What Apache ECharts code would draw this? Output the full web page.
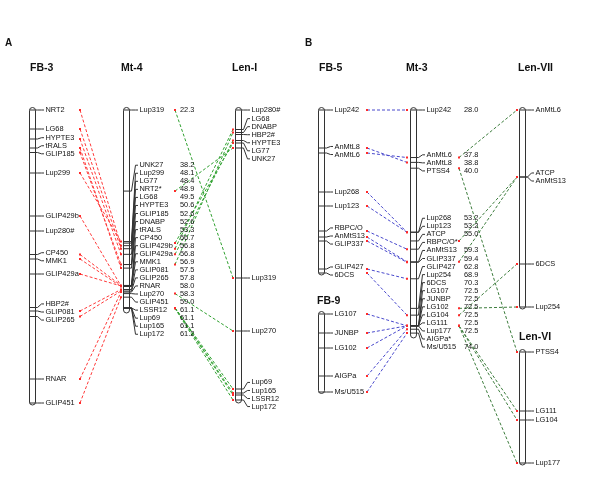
<!DOCTYPE html>
<html><head><meta charset="utf-8">
<script src="https://cdn.jsdelivr.net/npm/echarts@6/dist/echarts.min.js"></script>
<style>html,body{margin:0;padding:0;background:#fff}#c{width:600px;height:487px}</style>
</head><body><div id="c"></div>
<script>
// ---------------- DATA ----------------
// Panel A
const fb3Names = ['NRT2','LG68','HYPTE3','tRALS','GLIP185','Lup299','GLIP429b','Lup280#','CP450','MMK1','GLIP429a','HBP2#','GLIP081','GLIP265','RNAR','GLIP451'];
const fb3Pos   = [0, 3.8, 5.8, 7.6, 8.5, 12.6, 21.2, 24.2, 28.9, 29.8, 32.8, 39.5, 40.2, 41.3, 53.8, 58.6];
const fb3Ext   = [-0.5, 59.0];

const mt4Names = ['Lup319','UNK27','Lup299','LG77','NRT2*','LG68','HYPTE3','GLIP185','DNABP','tRALS','CP450','GLIP429b','GLIP429a','MMK1','GLIP081','GLIP265','RNAR','Lup270','GLIP451','LSSR12','Lup69','Lup165','Lup172'];
const mt4cM    = [22.3, 38.2, 48.1, 48.4, 48.9, 49.5, 50.6, 52.6, 52.6, 53.3, 56.7, 56.8, 56.8, 56.9, 57.5, 57.8, 58.0, 58.3, 59.0, 61.1, 61.1, 61.1, 61.2];
const mt4Printed = mt4Names.map(() => true);
const mt4Ext   = [21.8, 62.1];

const len1Names = ['Lup280#','LG68','DNABP','HBP2#','HYPTE3','LG77','UNK27','Lup319','Lup270','Lup69','Lup165','LSSR12','Lup172'];
const len1Pos   = [0, 3.9, 4.5, 4.9, 6.1, 6.6, 7.6, 33.6, 44.2, 55.8, 56.6, 57.0, 58.0];
const len1Ext   = [-0.5, 58.6];

// Panel B
const fb5Names = ['Lup242','AnMtL8','AnMtL6','Lup268','Lup123','RBPC/O','AnMtS13','GLIP337','GLIP427','6DCS'];
const fb5Pos   = [0, 7.6, 8.6, 16.4, 19.2, 24.2, 25.4, 26.2, 31.8, 32.6];
const fb5Ext   = [-0.5, 33.0];

const fb9Names = ['LG107','JUNBP','LG102','AIGPa','Ms/U515'];
const fb9Pos   = [0, 3.8, 6.8, 12.4, 15.6];
const fb9Ext   = [-0.5, 15.9];

const mt3Names = ['Lup242','AnMtL6','AnMtL8','PTSS4','Lup268','Lup123','ATCP','RBPC/O*','AnMtS13','GLIP337','GLIP427','Lup254','6DCS','LG107','JUNBP','LG102','LG104','LG111','Lup177','AIGPa*','Ms/U515'];
const mt3cM    = [28.0, 37.8, 38.8, 40.0, 53.2, 53.2, 55.0, 56.7, 59.3, 59.4, 62.8, 68.9, 70.3, 72.5, 72.5, 72.5, 72.5, 72.5, 72.5, 73.2, 74.0];
const mt3Printed = [true,true,true,true,true,true,true,false,true,true,true,true,true,true,true,true,true,true,true,false,true];
const mt3Ext   = [27.5, 75.0];

const len7Names = ['AnMtL6','ATCP','AnMtS13','6DCS','Lup254'];
const len7Pos   = [0, 13.4, 13.4, 30.8, 39.4];
const len7Ext   = [-0.5, 39.8];

const len6Names = ['PTSS4','LG111','LG104','Lup177'];
const len6Pos   = [0, 11.8, 13.6, 22.2];
const len6Ext   = [-0.5, 22.6];

// Links (from marker, to marker)
const linksFB3Mt4 = [['NRT2','NRT2*'],['LG68','LG68'],['HYPTE3','HYPTE3'],['tRALS','tRALS'],['GLIP185','GLIP185'],['Lup299','Lup299'],['GLIP429b','GLIP429b'],['CP450','CP450'],['MMK1','MMK1'],['GLIP429a','GLIP429a'],['GLIP081','GLIP081'],['GLIP265','GLIP265'],['RNAR','RNAR'],['GLIP451','GLIP451']];
const linksMt4Len1 = [['Lup319','Lup319'],['UNK27','UNK27'],['LG77','LG77'],['LG68','LG68'],['HYPTE3','HYPTE3'],['DNABP','DNABP'],['Lup270','Lup270'],['LSSR12','LSSR12'],['Lup69','Lup69'],['Lup165','Lup165'],['Lup172','Lup172']];
const linksFB5Mt3 = [['Lup242','Lup242'],['AnMtL8','AnMtL8'],['AnMtL6','AnMtL6'],['Lup268','Lup268'],['Lup123','Lup123'],['RBPC/O','RBPC/O*'],['AnMtS13','AnMtS13'],['GLIP337','GLIP337'],['GLIP427','GLIP427'],['6DCS','6DCS']];
const linksFB9Mt3 = [['LG107','LG107'],['JUNBP','JUNBP'],['LG102','LG102'],['AIGPa','AIGPa*'],['Ms/U515','Ms/U515']];
const linksMt3Len7 = [['AnMtL6','AnMtL6'],['ATCP','ATCP'],['AnMtS13','AnMtS13'],['6DCS','6DCS'],['Lup254','Lup254']];
const linksMt3Len6 = [['PTSS4','PTSS4'],['LG111','LG111'],['LG104','LG104'],['Lup177','Lup177']];

// ---------------- LAYOUT ----------------
const W = 600, H = 487, CW = 6, GAP = 8.05, LFS = 7.4;
const FAM = 'Liberation Sans';
const chroms = [
  {key:'FB-3',   names:fb3Names,  pos:fb3Pos,  ext:fb3Ext,  x:29,  topPx:110, ppu:5,    tx:30,  ty:68},
  {key:'Mt-4',   names:mt4Names,  pos:mt4cM,   ext:mt4Ext,  x:123, topPx:110, ppu:5.1,  tx:121, ty:68, printed:mt4Printed, numX:180},
  {key:'Len-I',  names:len1Names, pos:len1Pos, ext:len1Ext, x:235, topPx:110, ppu:5,    tx:232, ty:68},
  {key:'FB-5',   names:fb5Names,  pos:fb5Pos,  ext:fb5Ext,  x:318, topPx:110, ppu:5,    tx:319, ty:68},
  {key:'FB-9',   names:fb9Names,  pos:fb9Pos,  ext:fb9Ext,  x:318, topPx:314, ppu:5,    tx:317, ty:301},
  {key:'Mt-3',   names:mt3Names,  pos:mt3cM,   ext:mt3Ext,  x:410, topPx:110, ppu:4.85, tx:406, ty:68, printed:mt3Printed, numX:464},
  {key:'Len-VII',names:len7Names, pos:len7Pos, ext:len7Ext, x:519, topPx:110, ppu:5,    tx:518, ty:68},
  {key:'Len-VI', names:len6Names, pos:len6Pos, ext:len6Ext, x:519, topPx:352, ppu:5,    tx:519, ty:337}
];
const linkGroups = [
  {from:'FB-3', to:'Mt-4',    x1:80,  x2:121, color:'#ff3a3a', pairs:linksFB3Mt4},
  {from:'Mt-4', to:'Len-I',   x1:175, x2:233, color:'#2fa02f', pairs:linksMt4Len1},
  {from:'FB-5', to:'Mt-3',    x1:367, x2:407, color:'#4848cc', pairs:linksFB5Mt3},
  {from:'FB-9', to:'Mt-3',    x1:367, x2:407, color:'#4848cc', pairs:linksFB9Mt3},
  {from:'Mt-3', to:'Len-VII', x1:459, x2:517, color:'#3c7c3c', pairs:linksMt3Len7},
  {from:'Mt-3', to:'Len-VI',  x1:459, x2:517, color:'#3c7c3c', pairs:linksMt3Len6}
];

function spreadLabels(ticks, gap) {
  let cl = ticks.map((t, i) => ({s:i, e:i}));
  const center = c => (ticks[c.s] + ticks[c.e]) / 2;
  const half = c => (c.e - c.s) * gap / 2;
  let merged = true;
  while (merged) {
    merged = false;
    for (let i = 0; i < cl.length - 1; i++) {
      const a = cl[i], b = cl[i + 1];
      if ((center(b) - half(b)) - (center(a) + half(a)) < gap - 1e-6) {
        cl.splice(i, 2, {s:a.s, e:b.e}); merged = true; break;
      }
    }
  }
  const out = [];
  cl.forEach(c => { const m = center(c), n = c.e - c.s; for (let k = 0; k <= n; k++) out[c.s + k] = m + (k - n / 2) * gap; });
  return out;
}

function txt(text, x, y, size, weight) {
  return {type:'text', silent:true, style:{text:text, x:x, y:y, fontSize:size, fontFamily:FAM, fontWeight:weight || 'normal', fill:'#111', align:'left', verticalAlign:'middle'}};
}

function makeRender(c) {
  return function (params, api) {
    const p = (x, v) => api.coord([x, v]);
    const xl = p(c.x, c.pos[0])[0] + 0.5, xr = xl + CW;
    const top = p(c.x, c.ext[0])[1], bot = p(c.x, c.ext[1])[1];
    const ticks = c.pos.map(v => p(c.x, v)[1]);
    const labs = spreadLabels(ticks, GAP);
    const tx = xr + 10;
    const kids = [{type:'rect', shape:{x:xl, y:top, width:CW, height:bot - top, r:3}, style:{fill:'#fff', stroke:'#333', lineWidth:1}}];
    ticks.forEach((t, i) => {
      const l = labs[i];
      kids.push({type:'polyline', shape:{points:[[xl, t], [xr + 2, t], [tx - 4, l], [tx - 1.5, l]]}, style:{stroke:'#333', lineWidth:1, fill:null}});
      kids.push(txt(c.names[i], tx, l, LFS));
      if (c.printed && c.printed[i]) kids.push(txt(c.pos[i].toFixed(1), c.numX, l, LFS));
    });
    return {type:'group', children:kids};
  };
}

const chart = echarts.init(document.getElementById('c'), null, {width:W, height:H});
const yAxes = chroms.map(c => {
  const min = c.pos[0] - c.topPx / c.ppu;
  return {type:'value', inverse:true, min:min, max:min + H / c.ppu, show:false, gridIndex:0};
});
chart.setOption({
  animation:false,
  textStyle:{fontFamily:FAM},
  grid:{left:0, right:0, top:0, bottom:0},
  xAxis:{type:'value', min:0, max:W, show:false},
  yAxis:yAxes,
  series:chroms.map((c, k) => ({
    type:'custom', name:c.key, xAxisIndex:0, yAxisIndex:k, silent:true,
    data:[[c.x, c.pos[0]]], renderItem:makeRender(c)
  }))
});

// connectors through the library's axes
const idx = {}; chroms.forEach((c, k) => idx[c.key] = k);
const gfx = [];
linkGroups.forEach(g => {
  const A = chroms[idx[g.from]], B = chroms[idx[g.to]];
  g.pairs.forEach(([na, nb]) => {
    const va = A.pos[A.names.indexOf(na)], vb = B.pos[B.names.indexOf(nb)];
    const pa = chart.convertToPixel({xAxisIndex:0, yAxisIndex:idx[g.from]}, [g.x1, va]);
    const pb = chart.convertToPixel({xAxisIndex:0, yAxisIndex:idx[g.to]}, [g.x2, vb]);
    gfx.push({type:'line', silent:true, shape:{x1:pa[0], y1:pa[1], x2:pb[0], y2:pb[1]}, style:{stroke:g.color, lineWidth:1, lineDash:[3, 2]}});
    gfx.push({type:'rect', silent:true, shape:{x:pa[0] - 1, y:pa[1] - 1, width:2, height:2}, style:{fill:'#ff2a2a'}});
    gfx.push({type:'rect', silent:true, shape:{x:pb[0] - 1, y:pb[1] - 1, width:2, height:2}, style:{fill:'#ff2a2a'}});
  });
});
chroms.forEach(c => gfx.push(txt(c.key, c.tx, c.ty, 10.5, 'bold')));
gfx.push(txt('A', 5, 43, 10, 'bold'));
gfx.push(txt('B', 305, 43, 10, 'bold'));
chart.setOption({graphic:{elements:gfx}});
</script>
</body></html>
